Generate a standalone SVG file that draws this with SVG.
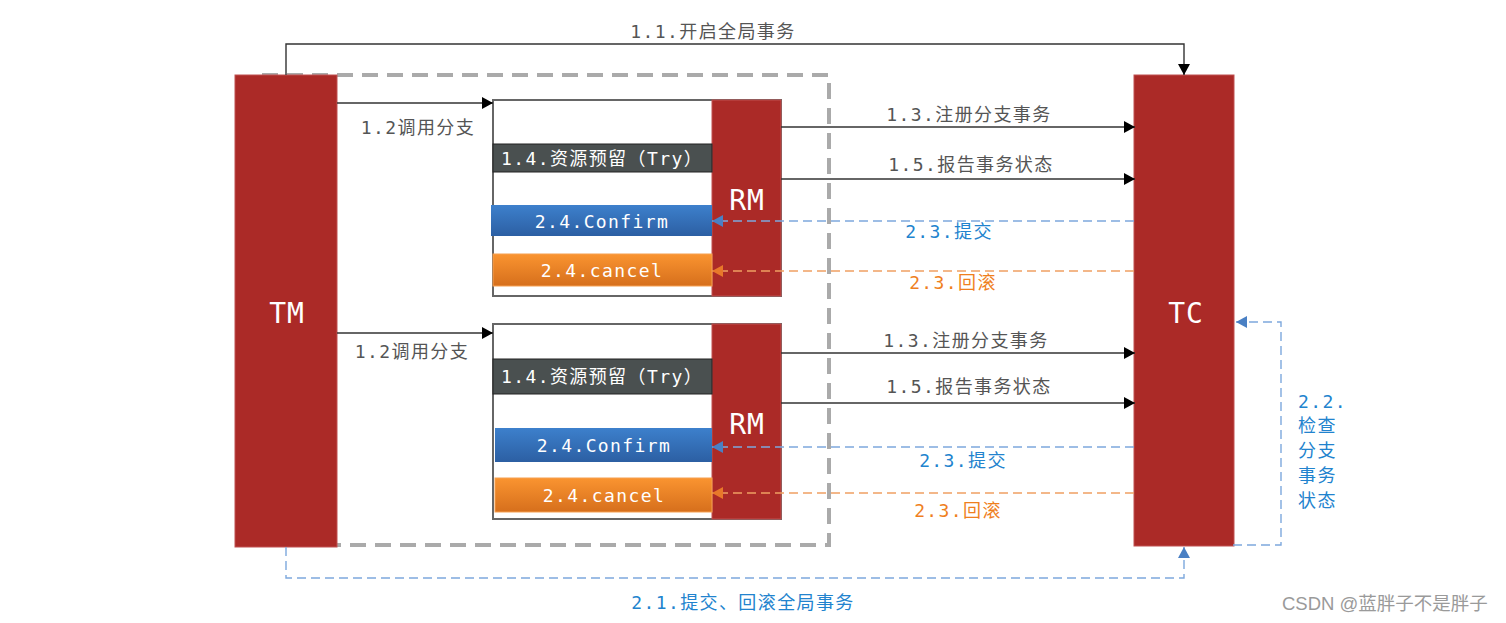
<svg xmlns="http://www.w3.org/2000/svg" width="1506" height="623" viewBox="0 0 1506 623">
<style>
.lbl{font-family:"DejaVu Sans Mono","Noto Sans CJK SC",monospace;font-size:18px;letter-spacing:1.4px;text-anchor:middle}
.g{fill:#555555}
.b{fill:#2283CE}
.o{fill:#EF7F1E}
.w{fill:#FFFFFF}
.big{font-family:"DejaVu Sans Mono","Noto Sans CJK SC",monospace;font-size:28px;fill:#FFFFFF;text-anchor:middle;letter-spacing:1px}
.red{fill:#AB2A27;stroke:#C05050;stroke-width:1}
.solid{fill:none;stroke:#333333;stroke-width:1.4}
.dblue{fill:none;stroke:#7DA8DD;stroke-width:1.4;stroke-dasharray:9,5}
.dorange{fill:none;stroke:#F0A063;stroke-width:1.4;stroke-dasharray:9,5}
</style>
<defs>
<marker id="ab" markerUnits="userSpaceOnUse" markerWidth="12" markerHeight="12" refX="11" refY="6" orient="auto"><path d="M0,0 L11,6 L0,12 z" fill="#000000"/></marker>
<marker id="abl" markerUnits="userSpaceOnUse" markerWidth="12" markerHeight="12" refX="11" refY="6" orient="auto"><path d="M0,0 L11,6 L0,12 z" fill="#4A80C4"/></marker>
<marker id="aor" markerUnits="userSpaceOnUse" markerWidth="12" markerHeight="12" refX="11" refY="6" orient="auto"><path d="M0,0 L11,6 L0,12 z" fill="#E8782A"/></marker>
<linearGradient id="gb" x1="0" y1="0" x2="0" y2="1"><stop offset="0" stop-color="#3D80CC"/><stop offset="1" stop-color="#2C5FA3"/></linearGradient>
<linearGradient id="go" x1="0" y1="0" x2="0" y2="1"><stop offset="0" stop-color="#FA9430"/><stop offset="1" stop-color="#D66F1C"/></linearGradient>
</defs>
<rect width="1506" height="623" fill="#FFFFFF"/>

<g id="scope">
<rect x="262" y="75" width="567" height="470" fill="none" stroke="#AAAAAA" stroke-width="4" stroke-dasharray="16,9"/>
</g>

<g id="TM">
<rect class="red" x="235" y="75" width="102" height="472"/>
<text class="big" x="287" y="323">TM</text>
</g>

<g id="TC">
<rect class="red" x="1134" y="75" width="100" height="471"/>
<text class="big" x="1186" y="323">TC</text>
</g>

<g id="branch1">
<rect x="493" y="100" width="288" height="196" fill="#FFFFFF" stroke="#666666" stroke-width="2"/>
<rect class="red" x="712" y="100" width="69" height="196"/>
<text class="big" x="747" y="210">RM</text>
<rect x="493" y="144" width="219" height="28" fill="#4A5050" stroke="#222" stroke-width="1"/>
<text class="lbl w" x="602" y="165">1.4.资源预留（Try）</text>
<rect x="491" y="205" width="221" height="31" fill="url(#gb)"/>
<text class="lbl w" x="602" y="228">2.4.Confirm</text>
<rect x="493" y="254" width="219" height="32" fill="url(#go)" stroke="#F6A050" stroke-width="1"/>
<text class="lbl w" x="602" y="277">2.4.cancel</text>
</g>

<g id="branch2">
<rect x="493" y="324" width="288" height="195" fill="#FFFFFF" stroke="#666666" stroke-width="2"/>
<rect class="red" x="712" y="324" width="69" height="195"/>
<text class="big" x="747" y="434">RM</text>
<rect x="493" y="359" width="219" height="35" fill="#4A5050" stroke="#222" stroke-width="1"/>
<text class="lbl w" x="602" y="383">1.4.资源预留（Try）</text>
<rect x="495" y="428" width="217" height="34" fill="url(#gb)"/>
<text class="lbl w" x="604" y="452">2.4.Confirm</text>
<rect x="495" y="478" width="217" height="34" fill="url(#go)" stroke="#F6A050" stroke-width="1"/>
<text class="lbl w" x="604" y="502">2.4.cancel</text>
</g>

<g id="connectors">
<path class="solid" d="M286,75 V44 H1184 V75" marker-end="url(#ab)"/>
<path class="solid" d="M337,103 H493" marker-end="url(#ab)"/>
<path class="solid" d="M337,333 H493" marker-end="url(#ab)"/>
<path class="solid" d="M781,127 H1135" marker-end="url(#ab)"/>
<path class="solid" d="M781,179 H1135" marker-end="url(#ab)"/>
<path class="solid" d="M781,353 H1135" marker-end="url(#ab)"/>
<path class="solid" d="M781,403 H1135" marker-end="url(#ab)"/>
<path class="dblue" d="M1134,221 H712" marker-end="url(#abl)"/>
<path class="dorange" d="M1134,271 H712" marker-end="url(#aor)"/>
<path class="dblue" d="M1134,447 H712" marker-end="url(#abl)"/>
<path class="dorange" d="M1134,493 H712" marker-end="url(#aor)"/>
<path class="dblue" d="M1233,545 H1281 V322 H1236" marker-end="url(#abl)"/>
<path class="dblue" d="M286,547 V578 H1184 V547" marker-end="url(#abl)"/>
</g>

<g id="labels">
<text class="lbl g" x="713" y="38">1.1.开启全局事务</text>
<text class="lbl g" x="418" y="134">1.2调用分支</text>
<text class="lbl g" x="412" y="358">1.2调用分支</text>
<text class="lbl g" x="969" y="121">1.3.注册分支事务</text>
<text class="lbl g" x="971" y="171">1.5.报告事务状态</text>
<text class="lbl b" x="949" y="238">2.3.提交</text>
<text class="lbl o" x="953" y="289">2.3.回滚</text>
<text class="lbl g" x="966" y="347">1.3.注册分支事务</text>
<text class="lbl g" x="969" y="393">1.5.报告事务状态</text>
<text class="lbl b" x="963" y="467">2.3.提交</text>
<text class="lbl o" x="958" y="517">2.3.回滚</text>
<text class="lbl b" x="743" y="609">2.1.提交、回滚全局事务</text>
<g>
<text class="lbl b" x="1298" y="408" style="text-anchor:start">2.2.</text>
<text class="lbl b" x="1298" y="432" style="text-anchor:start">检查</text>
<text class="lbl b" x="1298" y="457" style="text-anchor:start">分支</text>
<text class="lbl b" x="1298" y="482" style="text-anchor:start">事务</text>
<text class="lbl b" x="1298" y="507" style="text-anchor:start">状态</text>
</g>
<text x="1282" y="610" style="font-family:'Liberation Sans','Noto Sans CJK SC',sans-serif;font-size:18.5px;fill:#9A9A9A">CSDN @蓝胖子不是胖子</text>
</g>
</svg>
